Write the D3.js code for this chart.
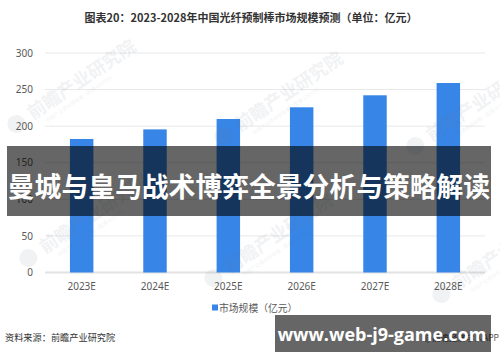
<!DOCTYPE html>
<meta charset="utf-8">
<style>
body { margin: 0; background: #fff; }
svg { display: block; font-family: "Noto Sans CJK SC", "Noto Sans", sans-serif; }
.axis text { font-size: 10px; fill: #595959; font-family: "Noto Sans", "DejaVu Sans", sans-serif; }
</style>
<body>
<script src="https://cdn.jsdelivr.net/npm/d3@7"></script>
<script>

// chart data
var years = ["2023E", "2024E", "2025E", "2026E", "2027E", "2028E"];
var marketSize = [182.5, 195.6, 209.8, 225.8, 242.2, 259];
var yTicks = [0, 50, 100, 150, 200, 250, 300];

var titleText = "图表20：2023-2028年中国光纤预制棒市场规模预测（单位：亿元）";
var legendText = "市场规模（亿元）";
var sourceText = "资料来源：前瞻产业研究院";
var bannerText = "曼城与皇马战术博弈全景分析与策略解读";
var siteText = "www.web-j9-game.com";

// watermark anchors (text start, left-bottom)
var marks = [[33, 120], [240, 132], [432, 142], [45, 254], [230, 274], [458, 290]];

var width = 500, height = 362;

var svg = d3.select("body").append("svg")
    .attr("width", width)
    .attr("height", height);

var x = d3.scaleBand()
    .domain(years)
    .range([45, 485])
    .paddingInner(0.68)
    .paddingOuter(0.34);

var y = d3.scaleLinear()
    .domain([0, 300])
    .range([272.5, 53]);

// title
svg.append("text")
    .attr("x", 251)
    .attr("y", 22)
    .attr("text-anchor", "middle")
    .style("font-size", "11px")
    .style("font-weight", "bold")
    .style("fill", "#333")
    .text(titleText);

// gridlines
svg.append("g")
  .selectAll("line")
    .data(yTicks)
  .enter().append("line")
    .attr("x1", 45)
    .attr("x2", 485)
    .attr("y1", function(d) { return y(d); })
    .attr("y2", function(d) { return y(d); })
    .style("stroke", function(d) { return d === 0 ? "#e2e2e2" : "#e8e8e8"; })
    .style("stroke-width", function(d) { return d === 0 ? 2 : 1; });

// y labels
var yAxis = svg.append("g")
    .attr("class", "axis")
    .attr("transform", "translate(45,0)")
    .call(d3.axisLeft(y).tickValues(yTicks).tickSize(0).tickPadding(12));
yAxis.select(".domain").remove();

// x labels
var xAxis = svg.append("g")
    .attr("class", "axis")
    .attr("transform", "translate(0," + y(0) + ")")
    .call(d3.axisBottom(x).tickSize(0).tickPadding(10));
xAxis.select(".domain").remove();

// bars
svg.append("g")
  .selectAll("rect")
    .data(marketSize)
  .enter().append("rect")
    .attr("x", function(d, i) { return x(years[i]); })
    .attr("width", x.bandwidth())
    .attr("y", function(d) { return y(d); })
    .attr("height", function(d) { return y(0) - y(d); })
    .style("fill", "#3785e6");

// watermarks
var wm = svg.append("g")
  .selectAll("g")
    .data(marks)
  .enter().append("g")
    .attr("transform", function(d) { return "translate(" + d[0] + "," + d[1] + ") rotate(-34)"; })
    .style("opacity", 0.09);
wm.append("circle")
    .attr("cx", -16)
    .attr("cy", -6)
    .attr("r", 9)
    .style("fill", "#6b7a8c");
wm.append("text")
    .style("font-size", "18px")
    .style("font-weight", "bold")
    .style("fill", "#6b7a8c")
    .text("前瞻产业研究院");
wm.append("text")
    .attr("x", 10)
    .attr("y", 10)
    .style("font-size", "5px")
    .style("fill", "#6b7a8c")
    .text("中国产业咨询领导者（股票 835599）");

// legend
svg.append("rect")
    .attr("x", 212)
    .attr("y", 304.5)
    .attr("width", 6)
    .attr("height", 6)
    .style("fill", "#3785e6");
svg.append("text")
    .attr("x", 219)
    .attr("y", 312)
    .style("font-size", "9.8px")
    .style("fill", "#595959")
    .text(legendText);

// source
svg.append("text")
    .attr("x", 5)
    .attr("y", 341)
    .style("font-size", "9.2px")
    .style("fill", "#333")
    .text(sourceText);

svg.append("text")
    .attr("x", 499)
    .attr("y", 341)
    .attr("text-anchor", "end")
    .style("font-size", "8.5px")
    .style("fill", "#555")
    .text("@前瞻经济学人APP");

// overlay banner
svg.append("rect")
    .attr("x", 7)
    .attr("y", 146)
    .attr("width", 484)
    .attr("height", 70)
    .style("fill", "#000")
    .style("opacity", 0.6);
svg.append("text")
    .attr("x", 249)
    .attr("y", 197)
    .attr("text-anchor", "middle")
    .style("font-size", "26.8px")
    .style("font-weight", "bold")
    .style("fill", "#fff")
    .text(bannerText);

// site overlay
svg.append("rect")
    .attr("x", 275)
    .attr("y", 315)
    .attr("width", 216)
    .attr("height", 37)
    .style("fill", "#000")
    .style("opacity", 0.6);
svg.append("text")
    .attr("x", 382)
    .attr("y", 341)
    .attr("text-anchor", "middle")
    .style("font-family", "'Open Sans', 'Noto Sans', sans-serif")
    .style("font-size", "18px")
    .style("font-weight", "bold")
    .style("fill", "#fff")
    .text(siteText);

</script>
</body>
